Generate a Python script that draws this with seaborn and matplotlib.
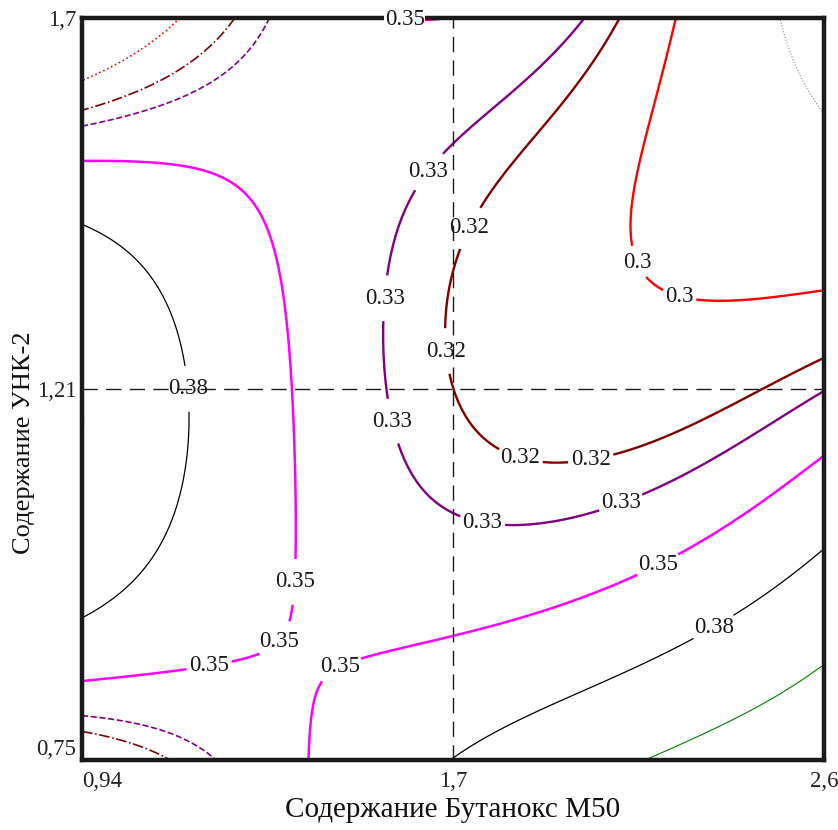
import numpy as np
import pandas as pd
import matplotlib
matplotlib.use("Agg")
import matplotlib.pyplot as plt
import seaborn as sns

# ---- data: regression model in coded factors x1, x2 in [-1, 1] ----
pow_x1 = [0, 0, 0, 0, 0, 1, 1, 1, 1, 2, 2, 2, 3, 3, 4]
pow_x2 = [0, 1, 2, 3, 4, 0, 1, 2, 3, 0, 1, 2, 0, 1, 0]
coef = [0.320063, -0.014480, 0.045329, -0.000930, -0.000250,
        -0.045774, -0.045259, 0.076220, -0.001374,
        0.053674, -0.054386, -0.111692,
        0.000933, 0.001251, 0.000502]

levels = [0.25, 0.30, 0.32, 0.33, 0.35, 0.38, 0.4195]
level_colors = ["#8c8c8c", "#ff0000", "#800000", "#800080", "#ff00ff", "#000000", "#008000"]
level_widths = [0.8, 1.7, 1.7, 1.7, 1.8, 0.9, 0.8]
corner_styles = [":", ":", "-.", "--", "--", "-", "-"]

x_ticklabels = ["0,94", "1,7", "2,6"]
y_ticklabels = ["0,75", "1,21", "1,7"]
x_title = "Содержание Бутанокс М50"
y_title = "Содержание УНК-2"

# ---- style ----
sns.set_theme(style="white")
plt.rcParams["font.family"] = ["Liberation Serif", "DejaVu Serif"]

fig = plt.figure(figsize=(8.38, 8.30), dpi=100)
ax = fig.add_axes([82 / 838, 1 - 760 / 830, 742 / 838, 742 / 830])

g = np.linspace(-1, 1, 601)
GX, GY = np.meshgrid(g, g)
GZ = np.zeros_like(GX)
for i, j, c in zip(pow_x1, pow_x2, coef):
    GZ += c * GX ** i * GY ** j

corner = ((GX < -0.45) & (GY > 0.66)) | ((GX < -0.55) & (GY < -0.84))
main_styles = [":" if lv == 0.25 else "-" for lv in levels]

cs = ax.contour(GX, GY, np.ma.masked_where(corner, GZ), levels=levels,
                colors=level_colors, linewidths=level_widths, linestyles=main_styles)
ax.contour(GX, GY, np.ma.masked_where(~corner, GZ), levels=levels,
           colors=level_colors, linewidths=[w * 0.7 for w in level_widths],
           linestyles=corner_styles)

label_spots = [(-0.11, 0.62), (0.0, 0.456), (0.47, 0.33), (0.61, 0.25), (-0.25, 0.25),
               (-0.075, 0.097), (-0.72, 0.0), (-0.22, -0.10), (0.18, -0.19), (0.37, -0.18),
               (0.45, -0.30), (0.08, -0.355), (0.55, -0.47), (0.69, -0.62),
               (-0.43, -0.52), (-0.47, -0.68), (-0.66, -0.73), (-0.30, -0.76)]
cl = ax.clabel(cs, manual=label_spots, inline=True,
               inline_spacing=3, fmt="%g", fontsize=16.5, colors="k")
for t in cl:
    t.set_rotation(0)
ax.text(-0.13, 0.997, "0.35", fontsize=16.5, ha="center", va="center", color="k",
        bbox=dict(facecolor="white", edgecolor="none", pad=0.5), zorder=5)

# crosshair through the centre point
cross_h = pd.DataFrame({"x": [-1, 1], "y": [0, 0]})
cross_v = pd.DataFrame({"x": [0, 0], "y": [-1, 1]})
for df in (cross_h, cross_v):
    sns.lineplot(data=df, x="x", y="y", ax=ax, color="k", lw=1.0, sort=False,
                 estimator=None)
for line in ax.lines:
    line.set_dashes([11, 6])

ax.set_xlim(-1, 1)
ax.set_ylim(-1, 1)
ax.set_xticks([-1, 0, 1])
ax.set_yticks([-1, 0, 1])
ax.set_xticklabels(x_ticklabels, fontsize=16.5)
ax.set_yticklabels(y_ticklabels, fontsize=16.5)
ax.tick_params(length=0, pad=8, colors="#222222")
ax.tick_params(axis="y", pad=4)
ax.get_xticklabels()[0].set_ha("left")
ax.get_yticklabels()[0].set_va("bottom")
for sp in ax.spines.values():
    sp.set_linewidth(3.2)
    sp.set_color("k")
    sp.set_visible(True)

ax.set_xlabel(x_title, fontsize=21, color="#111111")
ax.xaxis.set_label_coords(0.5, -0.068)
ax.xaxis.label.set_va("center")
ax.set_ylabel(y_title, fontsize=19, color="#111111")
ax.yaxis.set_label_coords(-0.078, 0.427)
ax.yaxis.label.set_va("center")

fig.savefig("out.png", dpi=100)
